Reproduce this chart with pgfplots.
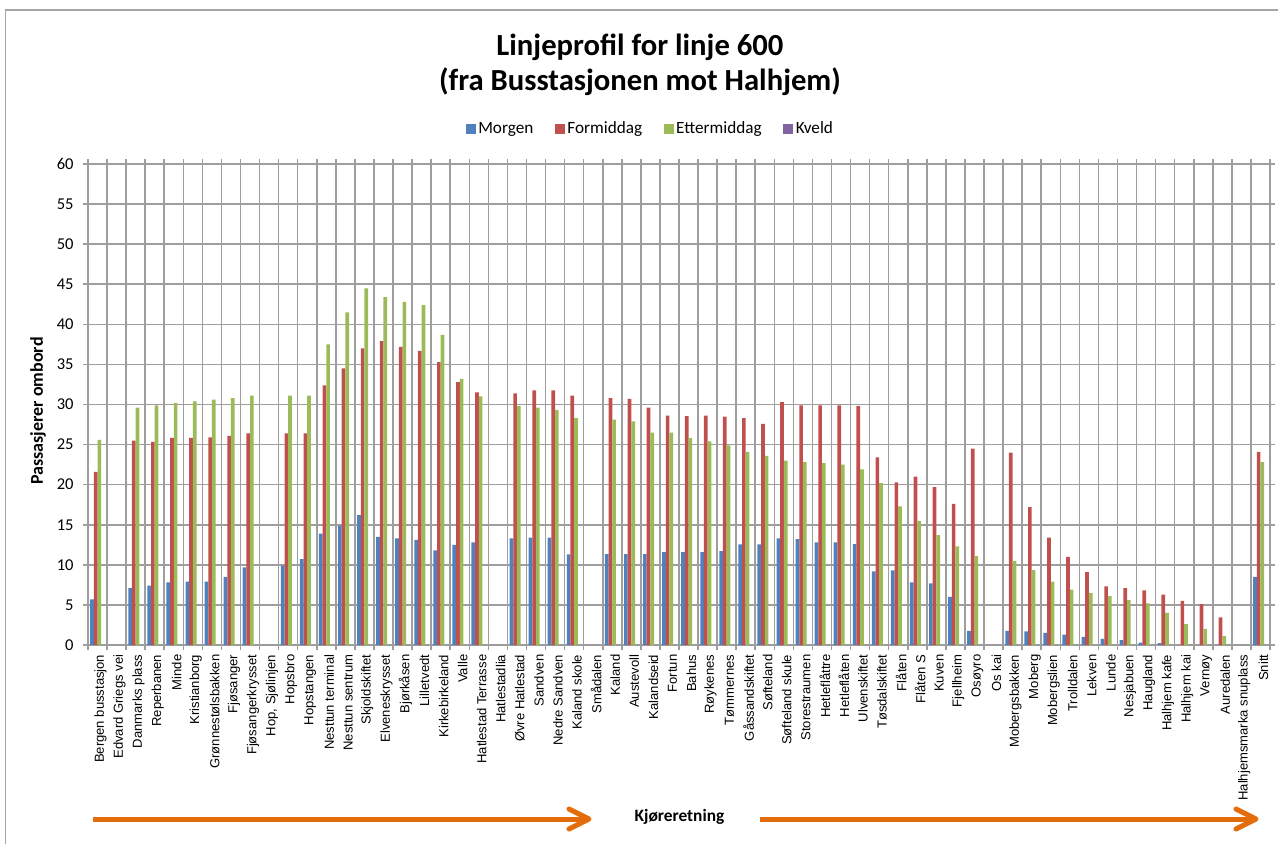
\documentclass[border=0pt]{standalone}
\usepackage{pgfplots}
\pgfplotsset{compat=1.18}
\usepackage{pgfplotstable}
\usepackage{fontspec}
\setmainfont{Carlito}
\newfontfamily\arialf{Liberation Sans}
\definecolor{cM}{HTML}{4F81BD}
\definecolor{cF}{HTML}{C0504D}
\definecolor{cE}{HTML}{9BBB59}
\definecolor{cK}{HTML}{8064A2}
\definecolor{gridc}{RGB}{158,158,158}
\definecolor{arr}{HTML}{E46C0A}
\definecolor{framec}{RGB}{165,165,165}
\pgfplotsset{sqleg/.style={legend image code/.code={\fill[##1] (0pt,-3.75pt) rectangle (7.5pt,3.75pt);}}}

\pgfplotstableread{
x M F E K
1 5.7 21.6 25.6 0
2 0 0 0 0
3 7.1 25.5 29.6 0
4 7.4 25.35 29.9 0
5 7.8 25.85 30.2 0
6 7.9 25.85 30.4 0
7 7.9 25.9 30.6 0
8 8.5 26.1 30.8 0
9 9.7 26.4 31.1 0
10 0 0 0 0
11 9.9 26.4 31.1 0
12 10.7 26.4 31.1 0
13 13.9 32.4 37.5 0
14 14.9 34.5 41.5 0
15 16.2 37.0 44.5 0
16 13.5 37.9 43.4 0
17 13.3 37.2 42.8 0
18 13.1 36.7 42.4 0
19 11.8 35.3 38.7 0
20 12.5 32.8 33.2 0
21 12.8 31.5 31.0 0
22 0 0 0 0
23 13.3 31.4 29.8 0
24 13.4 31.75 29.6 0
25 13.4 31.75 29.3 0
26 11.3 31.1 28.3 0
27 0 0 0 0
28 11.35 30.8 28.1 0
29 11.35 30.7 27.9 0
30 11.35 29.6 26.5 0
31 11.6 28.6 26.5 0
32 11.6 28.55 25.8 0
33 11.6 28.6 25.4 0
34 11.7 28.5 24.9 0
35 12.55 28.3 24.1 0
36 12.55 27.6 23.6 0
37 13.3 30.3 23.0 0
38 13.2 29.9 22.8 0
39 12.8 29.9 22.7 0
40 12.8 29.9 22.5 0
41 12.6 29.8 21.9 0
42 9.2 23.4 20.2 0
43 9.3 20.3 17.3 0
44 7.8 21.0 15.5 0
45 7.7 19.7 13.7 0
46 6.0 17.6 12.3 0
47 1.75 24.5 11.1 0
48 0 0 0 0
49 1.75 24.0 10.5 0
50 1.7 17.2 9.35 0
51 1.5 13.4 7.9 0
52 1.3 11.0 6.9 0
53 1.0 9.1 6.5 0
54 0.75 7.3 6.1 0
55 0.6 7.1 5.6 0
56 0.3 6.8 5.2 0
57 0.25 6.3 4.0 0
58 0 5.5 2.6 0
59 0 5.1 2.0 0
60 0 3.45 1.1 0
61 0 0 0 0
62 8.5 24.1 22.8 0
}\data

\begin{document}
\begin{tikzpicture}
\useasboundingbox (0,0) rectangle (958.5pt,-632.25pt);
\begin{scope}[x=0.75pt,y=-0.75pt]
\draw[framec,line width=1.1pt] (5.7,900) -- (5.7,10) -- (1300,10);
\draw[arr,line width=3.75pt] (93,819) -- (586,819);
\draw[arr,line width=3.75pt,line cap=round,line join=round] (569,809) -- (589,819) -- (569,829);
\draw[arr,line width=3.75pt] (760,819) -- (1253,819);
\draw[arr,line width=3.75pt,line cap=round,line join=round] (1236,809) -- (1256,819) -- (1236,829);
\end{scope}
\begin{axis}[
  at={(66pt,-483.75pt)}, anchor=south west,
  scale only axis, width=886.5pt, height=360.75pt,
  ybar=0pt, bar width=2.75pt,
  xmin=0.5, xmax=62.5, ymin=0, ymax=60,
  enlarge x limits=false, enlarge y limits=false,
  ytick={0,5,...,60},
  xtick={1,...,62},
  xticklabels={Bergen busstasjon,Edvard Griegs vei,Danmarks plass,Reperbanen,Minde,Kristianborg,Grønnestølsbakken,Fjøsanger,Fjøsangerkrysset,{Hop, Sjølinjen},Hopsbro,Hopstangen,Nesttun terminal,Nesttun sentrum,Skjoldskiftet,Elveneskrysset,Bjørkåsen,Lilletvedt,Kirkebirkeland,Valle,Hatlestad Terrasse,Hatlestadlia,Øvre Hatlestad,Sandven,Nedre Sandven,Kaland skole,Smådalen,Kaland,Austevoll,Kalandseid,Fortun,Bahus,Røykenes,Tømmernes,Gåssandskiftet,Søfteland,Søfteland skule,Storestraumen,Hetleflåttre,Hetleflåten,Ulvenskiftet,Tøsdalskiftet,Flåten,Flåten S,Kuven,Fjellheim,Osøyro,Os kai,Mobergsbakken,Moberg,Mobergslien,Trolldalen,Lekven,Lunde,Nesjabuen,Haugland,Halhjem kafe,Halhjem kai,Vernøy,Auredalen,Halhjemsmarka snuplass,Snitt},
  minor xtick={0.5,1.5,...,62.5},
  xminorgrids=true, ymajorgrids=true, xmajorgrids=false,
  grid style={gridc, line width=1.15pt},
  minor grid style={gridc, line width=1.15pt},
  axis line style={gridc, line width=1.15pt},
  tick align=outside, major tick length=3.75pt, minor tick length=3.75pt,
  every tick/.style={gridc, line width=1.15pt},
  major x tick style={draw=none},
  xticklabel style={rotate=90, anchor=east, yshift=-2.2pt, font=\arialf\fontsize{9.8}{11}\selectfont},
  yticklabel style={xshift=-3.5pt, font=\fontsize{12.4}{14}\selectfont},
  /pgf/number format/assume math mode=true,
  title={Linjeprofil for linje 600\\(fra Busstasjonen mot Halhjem)},
  title style={at={(axis description cs:0.467,1.19)}, anchor=center, align=center, font=\bfseries\fontsize{23}{26.25}\selectfont},
  ylabel={Passasjerer ombord},
  every axis y label/.style={at={(axis description cs:-0.0423,0.4865)}, rotate=90, anchor=center, font=\bfseries\fontsize{13.5}{16}\selectfont},
  xlabel={Kjøreretning},
  every axis x label/.style={at={(axis description cs:0.5004,-0.3576)}, anchor=center, font=\bfseries\fontsize{13}{15}\selectfont},
  legend columns=4,
  legend style={at={(axis description cs:0.476,1.073)}, anchor=center, draw=none, fill=none, font=\fontsize{12.9}{15}\selectfont, /tikz/every even column/.append style={column sep=14pt}},
]
\addplot[fill=cM, draw=none, sqleg] table[x=x,y=M] {\data};
\addplot[fill=cF, draw=none, sqleg] table[x=x,y=F] {\data};
\addplot[fill=cE, draw=none, sqleg] table[x=x,y=E] {\data};
\addplot[fill=cK, draw=none, sqleg] table[x=x,y=K] {\data};
\legend{Morgen,Formiddag,Ettermiddag,Kveld}
\end{axis}
\end{tikzpicture}
\end{document}
